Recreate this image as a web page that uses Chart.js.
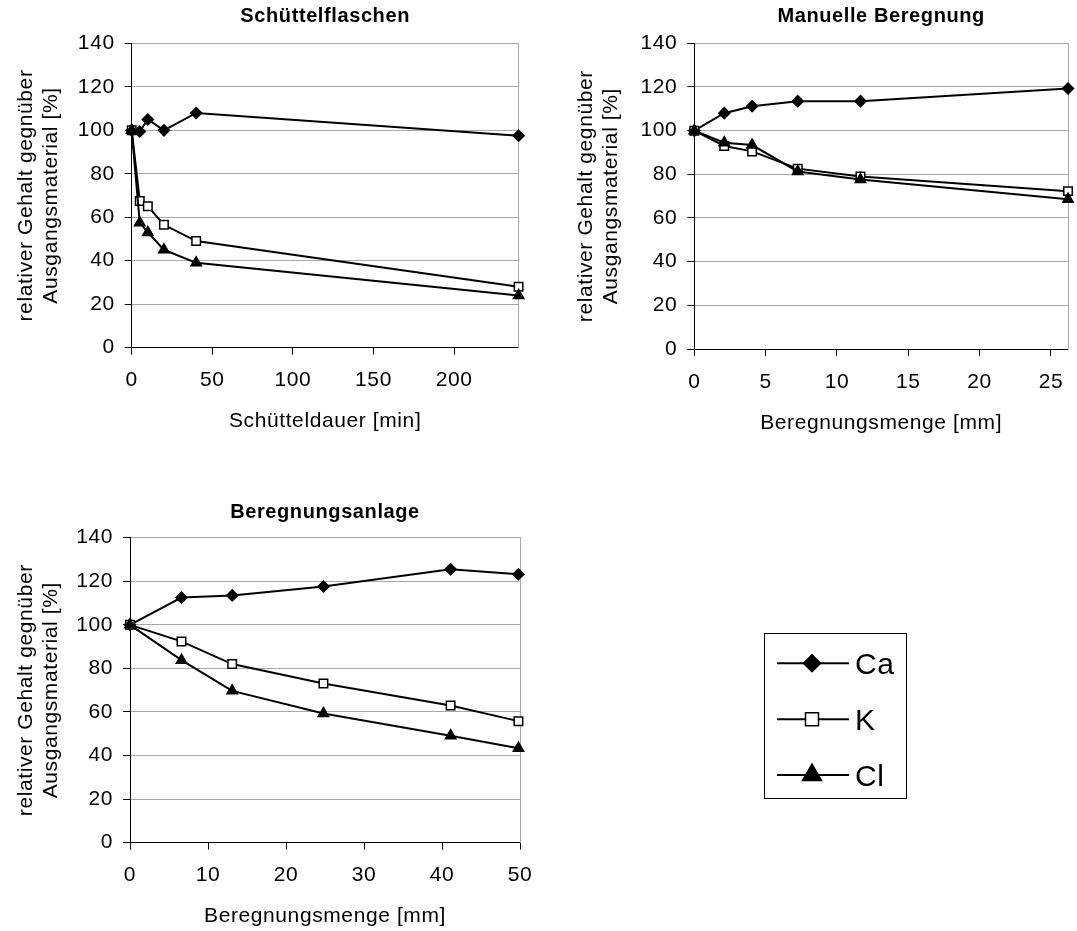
<!DOCTYPE html>
<html lang="de">
<head>
<meta charset="utf-8">
<title>Relativer Gehalt gegenüber Ausgangsmaterial</title>
<script src="https://cdn.jsdelivr.net/npm/chart.js@4.4.1/dist/chart.umd.min.js"></script>
<style>
    body { margin: 0; background: #fff; overflow: hidden; }
    .box { position: absolute; }
    #box1 { left: 0; top: 0; }
    #box2 { left: 560px; top: 0; }
    #box3 { left: 0; top: 480px; }
</style>
</head>
<body>
<div class="box" id="box1"><canvas id="grafico-schuettel" width="540" height="460"></canvas></div>
<div class="box" id="box2"><canvas id="grafico-manuell" width="517" height="460"></canvas></div>
<div class="box" id="box3"><canvas id="grafico-anlage" width="1077" height="451"></canvas></div>

<script>
// Daten
const serienNamen = ['Ca', 'K', 'Cl'];

const schuettelDauer = [0, 5, 10, 20, 40, 240];
const schuettelCa = [100, 99.5, 105, 100, 108, 97.5];
const schuettelK = [100, 67.5, 65, 56.5, 49, 28];
const schuettelCl = [100, 57.5, 53, 45, 39, 24];

const manuellMenge = [0, 2.1, 4.05, 7.25, 11.65, 26.2];
const manuellCa = [100, 108, 111.2, 113.5, 113.5, 119.3];
const manuellK = [100, 93, 90.5, 82.6, 79, 72.3];
const manuellCl = [100, 94.5, 93.4, 81.3, 77.6, 68.6];

const anlageMenge = [0, 6.6, 13.1, 24.8, 41.1, 49.8];
const anlageCa = [100, 112.5, 113.5, 117.6, 125.5, 123.2];
const anlageK = [100, 92.4, 82, 73.1, 63, 55.8];
const anlageCl = [100, 83.8, 69.7, 59.3, 49.1, 43.4];

const yTicks = [0, 20, 40, 60, 80, 100, 120, 140];
const yTitel = ['relativer Gehalt gegnüber', 'Ausgangsmaterial [%]'];

Chart.defaults.font.family = "'Liberation Sans', Arial, Helvetica, sans-serif";
Chart.defaults.color = '#000';

const GRAU = '#a8a8a8';

// etwas Zeichenabstand wie im Original
const abstandPlugin = {
    id: 'abstand',
    beforeUpdate(chart) { chart.ctx.letterSpacing = '0.6px'; },
    beforeDraw(chart) { chart.ctx.letterSpacing = '0.6px'; }
};

// Legende rechts unten (nur im dritten Diagramm)
const legendeZeilen = [183.3, 239.3, 295];
const legendeRadius = [8.5, 9.2, 11];
const legendePlugin = {
    id: 'legende',
    afterDraw(chart) {
        const ctx = chart.ctx;
        ctx.save();
        ctx.strokeStyle = '#000';
        ctx.lineWidth = 1;
        ctx.strokeRect(764.5, 153.5, 142, 165);
        chart.data.datasets.forEach((ds, i) => {
            const y = legendeZeilen[i];
            ctx.strokeStyle = '#000';
            ctx.lineWidth = 2;
            ctx.beginPath();
            ctx.moveTo(777, y);
            ctx.lineTo(849, y);
            ctx.stroke();
            ctx.fillStyle = ds.pointBackgroundColor;
            ctx.strokeStyle = '#000';
            ctx.lineWidth = 1.5;
            Chart.helpers.drawPoint(ctx, {
                pointStyle: ds.pointStyle,
                radius: legendeRadius[i],
                rotation: 0,
                borderWidth: 1.5
            }, 812, y);
            ctx.fillStyle = '#000';
            ctx.letterSpacing = '0.5px';
            ctx.font = "30px 'Liberation Sans', Arial, sans-serif";
            ctx.textAlign = 'left';
            ctx.textBaseline = 'alphabetic';
            ctx.fillText(ds.label, 855, y + 11);
        });
        ctx.restore();
    }
};

function serie(name, xWerte, werte, stil, radius, fuellung, ordnung) {
    return {
        label: name,
        data: xWerte.map((x, i) => ({ x: x, y: werte[i] })),
        borderColor: '#000',
        borderWidth: 2,
        tension: 0,
        pointStyle: stil,
        pointRadius: radius,
        pointBackgroundColor: fuellung,
        pointBorderColor: '#000',
        pointBorderWidth: 1.5,
        clip: false,
        order: ordnung
    };
}

function gerarGrafico(id, titel, xTitel, xWerte, ca, k, cl, xMax, xSchritt, lay, extraPlugins) {
    const canvas = document.getElementById(id);
    return new Chart(canvas, {
        type: 'line',
        data: {
            datasets: [
                serie(serienNamen[0], xWerte, ca, 'rectRot', 5.5, '#000', 2),
                serie(serienNamen[1], xWerte, k, 'rect', 6, '#fff', 1),
                serie(serienNamen[2], xWerte, cl, 'triangle', 6, '#000', 0)
            ]
        },
        plugins: [abstandPlugin].concat(extraPlugins || []),
        options: {
            responsive: false,
            animation: false,
            events: [],
            layout: { padding: lay.padding },
            plugins: {
                legend: { display: false },
                tooltip: { enabled: false },
                title: {
                    display: true,
                    text: titel,
                    fullSize: false,
                    color: '#000',
                    font: { size: 20, weight: 'bold', lineHeight: 1.2 },
                    padding: lay.titelPadding
                }
            },
            scales: {
                x: {
                    type: 'linear',
                    min: 0,
                    max: xMax,
                    ticks: { stepSize: xSchritt, includeBounds: false, padding: 13.4, maxRotation: 0, color: '#000', font: { size: 21, lineHeight: 1.2 } },
                    grid: { drawOnChartArea: false, tickLength: 7, tickColor: '#000' },
                    border: { color: '#000', width: 1 },
                    title: { display: true, text: xTitel, color: '#000', font: { size: 21, lineHeight: 1.2 }, padding: { top: 0, bottom: 0 } },
                    afterFit: (s) => { s.height = 86.6; }
                },
                y: {
                    min: yTicks[0],
                    max: yTicks[yTicks.length - 1],
                    afterBuildTicks: (s) => { s.ticks = yTicks.map(v => ({ value: v })); },
                    ticks: { padding: 10, color: '#000', font: { size: 21 } },
                    grid: { color: GRAU, lineWidth: 1, tickLength: 7, tickColor: '#000' },
                    border: { color: '#000', width: 1 },
                    title: { display: true, text: yTitel, color: '#000', font: { size: 21, lineHeight: 1.2 }, padding: { top: 13.4, bottom: 0 } },
                    afterFit: (s) => { s.width = lay.links; }
                },
                rechts: {
                    position: 'right',
                    min: 0,
                    max: 140,
                    ticks: { display: false },
                    grid: { display: false },
                    border: { color: GRAU, width: 1 },
                    afterFit: (s) => { s.width = 0; }
                }
            }
        }
    });
}

window.addEventListener("load", () => {
    gerarGrafico('grafico-schuettel', 'Schüttelflaschen', 'Schütteldauer [min]',
        schuettelDauer, schuettelCa, schuettelK, schuettelCl, 240, 50,
        { padding: { left: 0, right: 21.4, top: 0, bottom: 25.9 }, titelPadding: { top: 4, bottom: 15.5 }, links: 131.7 });

    gerarGrafico('grafico-manuell', 'Manuelle Beregnung', 'Beregnungsmenge [mm]',
        manuellMenge, manuellCa, manuellK, manuellCl, 26.2, 5,
        { padding: { left: 0, right: 1.5, top: 0, bottom: 24.4 }, titelPadding: { top: 4, bottom: 15.3 }, links: 134.3 });

    gerarGrafico('grafico-anlage', 'Beregnungsanlage', 'Beregnungsmenge [mm]',
        anlageMenge, anlageCa, anlageK, anlageCl, 50, 10,
        { padding: { left: 0, right: 557, top: 0, bottom: 1.7 }, titelPadding: { top: 20, bottom: 13.7 }, links: 130 },
        [legendePlugin]);
});
</script>
</body>
</html>
